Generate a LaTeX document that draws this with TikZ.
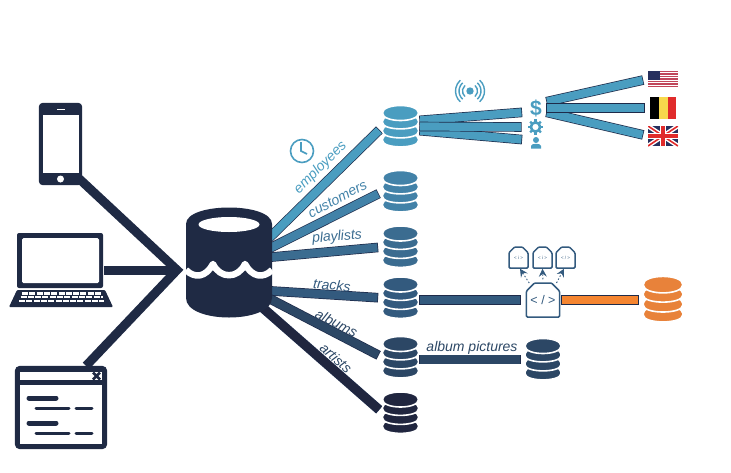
\documentclass[tikz,border=0pt]{standalone}
\usepackage{fontspec}
\setmainfont{Liberation Sans}
\usepackage{xcolor}
\usepackage{tikz}
\usetikzlibrary{arrows.meta, positioning, shapes.misc, backgrounds}
\definecolor{lakeNavy}{HTML}{1F2A44}
\definecolor{lakeEdge}{HTML}{1E2B4A}
\definecolor{employeeTone}{HTML}{4A9DC0}
\definecolor{customerTone}{HTML}{4282A8}
\definecolor{playlistTone}{HTML}{3B6C90}
\definecolor{trackTone}{HTML}{335A7E}
\definecolor{albumTone}{HTML}{2C4765}
\definecolor{artistTone}{HTML}{20263F}
\definecolor{orangeTone}{HTML}{E8823A}
\definecolor{orangeBar}{HTML}{F58530}
\definecolor{flagRed}{HTML}{C0455A}
\definecolor{flagBlue}{HTML}{27305E}
\definecolor{flagYellow}{HTML}{F7D94C}
\definecolor{flagScarlet}{HTML}{E02B2B}

\begin{document}
\begin{tikzpicture}[
  x=1pt, y=-1pt,
  font=\itshape\fontsize{14}{15}\selectfont,
  dbbox/.style={minimum width=35pt, minimum height=40pt, inner sep=0pt},
  iconbox/.style={minimum width=18pt, minimum height=14pt, inner sep=0pt},
  flagbox/.style={minimum height=16pt, inner sep=0pt},
  docbox/.style={draw=trackTone, line width=1.5pt, fill=white, rounded corners=1pt, chamfered rectangle,
                 chamfered rectangle corners={north west,north east}, chamfered rectangle sep=4pt,
                 inner sep=0pt, text=trackTone, font=\fontsize{12.5}{14}\selectfont},
  smalldoc/.style={docbox, minimum width=19pt, minimum height=21pt, font=\fontsize{4.5}{5}\selectfont},
  feed/.style={draw=lakeNavy, line width=9pt},
  bar/.style={line width=8.2pt, line cap=rect, draw=#1, shorten >=9.5pt, shorten <=6pt,
              preaction={draw=lakeEdge, line width=9.6pt, line cap=rect}},
  lakebar/.style={bar=#1, shorten <=-8pt},
  pull/.style={-{Stealth[length=2.8mm, width=2.8mm, inset=1mm]}, draw=trackTone, line width=.9pt,
               dash pattern=on 1.5pt off 2pt, shorten <=3pt},
  dbstack/.pic={
    \foreach \c in {12.5,3.5,-5.5}
      \path[fill=#1, draw=white, line width=1.6pt] (-18,\c) .. controls (-18,\c-8.5) and (18,\c-8.5) .. (18,\c)
        -- (18,\c+1.5) .. controls (18,\c+10) and (-18,\c+10) .. (-18,\c+1.5) -- cycle;
    \path[fill=#1, draw=white, line width=1.6pt] (-18,-13.5) .. controls (-18,-23.5) and (18,-23.5) .. (18,-13.5)
      .. controls (18,-3.5) and (-18,-3.5) .. cycle;
  },
  usflag/.pic={
    \fill[white] (-15,-8) rectangle (15,8);
    \foreach \s in {0,2,...,12}
      \fill[flagRed] (-15,-8+\s*1.23) rectangle (15,-8+\s*1.23+1.23);
    \fill[flagBlue] (-15,-8) rectangle (-3,0.5);
  },
  beflag/.pic={
    \fill[black] (-13,-11) rectangle (-4.5,11);
    \fill[flagYellow] (-4.5,-11) rectangle (4.5,11);
    \fill[flagScarlet] (4.5,-11) rectangle (13,11);
  },
  ukflag/.pic={
    \begin{scope}
      \clip (-15,-10) rectangle (15,10);
      \fill[flagBlue] (-15,-10) rectangle (15,10);
      \draw[white, line width=4.5pt] (-15,-10) -- (15,10) (-15,10) -- (15,-10);
      \draw[flagScarlet, line width=1.6pt] (-15,-10) -- (15,10) (-15,10) -- (15,-10);
      \draw[white, line width=6pt] (-15,0) -- (15,0) (0,-10) -- (0,10);
      \draw[flagScarlet, line width=3.4pt] (-15,0) -- (15,0) (0,-10) -- (0,10);
    \end{scope}
  }
]
\useasboundingbox (0,0) rectangle (731,472);

% clients
\node[minimum width=43pt, minimum height=82pt, inner sep=0pt] (phone) at (60.5,144) {};
\fill[lakeNavy, rounded corners=4pt] (phone.south west) rectangle (phone.north east);
\fill[white] (43,115) rectangle (79,173);
\draw[white, line width=1pt] (57,109) -- (65,109);
\fill[white] (60.5,179) circle (3.5);

\node[minimum width=86pt, minimum height=74pt, inner sep=0pt] (laptop) at (61,270) {};
\fill[lakeNavy, rounded corners=2pt] (17,233) rectangle (103,288);
\fill[white, rounded corners=1.5pt] (22,238) rectangle (99,283);
\fill[lakeNavy, rounded corners=1pt] (17,290) -- (105,290) -- (113,307) -- (9,307) -- cycle;
\draw[white, line width=2.6pt, dash pattern=on 6pt off 1.3pt] (22,293.5) -- (101,293.5);
\draw[white, line width=2.4pt, dash pattern=on 6pt off 1.3pt] (20.5,297.2) -- (102.5,297.2);
\draw[white, line width=2.6pt, dash pattern=on 6pt off 1.3pt] (19,301) -- (104,301);

\node[minimum width=92pt, minimum height=83pt, inner sep=0pt] (window) at (61,407.5) {};
\fill[lakeNavy, rounded corners=5pt] (window.south west) rectangle (window.north east);
\fill[white] (20,372) rectangle (102,380);
\fill[white] (20,385) rectangle (102,444);
\draw[lakeNavy, line width=2.8pt] (93,372.5) -- (100,379.5) (93,379.5) -- (100,372.5);
\draw[lakeNavy, line width=5pt, line cap=round] (29,398) -- (56,398) (29,423) -- (56,423);
\draw[lakeNavy, line width=3pt, line cap=round] (36,408.5) -- (69,408.5) (76,408.5) -- (92,408.5)
  (36,433) -- (69,433) (76,433) -- (92,433);

% lake
\node[minimum width=86pt, minimum height=111pt, inner sep=0pt] (lake) at (229,263) {};
\coordinate (lakein) at (177,270);
\fill[lakeNavy] (186,224) .. controls (186,202) and (272,202) .. (272,224) -- (272,298)
  .. controls (272,324) and (186,324) .. (186,298) -- cycle;
\fill[white] (229,224.5) ellipse [x radius=30.5, y radius=7.5];
\draw[white, line width=6.5pt, line join=round] (186,270) .. controls (195,279) and (206,277) .. (213,264)
  .. controls (220,279) and (238,279) .. (245,264) .. controls (252,277) and (263,279) .. (272,270);

% stores
\node[dbbox] (employees) at (400.5,126.5) {}; \pic at (employees) {dbstack=employeeTone};
\node[dbbox] (customers) at (400.5,191.5) {}; \pic at (customers) {dbstack=customerTone};
\node[dbbox] (playlists) at (400.5,247) {}; \pic at (playlists) {dbstack=playlistTone};
\node[dbbox] (tracks) at (400.5,298) {}; \pic at (tracks) {dbstack=trackTone};
\node[dbbox] (albums) at (400.5,357.5) {}; \pic at (albums) {dbstack=albumTone};
\node[dbbox] (artists) at (400.5,413) {}; \pic at (artists) {dbstack=artistTone};
\node[dbbox] (pictures) at (543,359.5) {}; \pic at (pictures) {dbstack=albumTone};
\node[dbbox, minimum width=38pt] (export) at (663,299.5) {}; \pic[scale=1.1] at (export) {dbstack=orangeTone};

% icons
\node[iconbox, text=employeeTone, font=\bfseries\fontsize{21}{21}\selectfont] (dollar) at (536,108) {\$};
\node[iconbox] (gear) at (535.5,127) {};
\draw[employeeTone, line width=2.6pt] (gear) circle (4.6);
\foreach \a in {0,45,...,315}
  \draw[employeeTone, line width=2.2pt] (gear) ++(\a:5) -- ++(\a:2.6);
\node[iconbox] (person) at (536,143) {};
\fill[employeeTone] (536,140) circle (3);
\fill[employeeTone] (531,148.5) -- (531,146) .. controls (531,143) and (541,143) .. (541,146) -- (541,148.5) -- cycle;
\node[minimum size=30pt, inner sep=0pt] (signal) at (470,91) {};
\fill[employeeTone] (signal) circle (3.7);
\foreach \r in {7.5,11,14.5}
  \draw[employeeTone, line width=1.4pt] (470,91) ++(-48:\r) arc (-48:48:\r)
    (470,91) ++(132:\r) arc (132:228:\r);
\node[minimum size=24pt, inner sep=0pt] (clock) at (302,151) {};
\draw[employeeTone, line width=1.6pt] (clock) circle (11.5);
\draw[employeeTone, line width=1.6pt] (301,142) -- (301,151) -- (307,154);

% flags
\node[flagbox, minimum width=30pt] (us) at (663,79) {}; \pic at (us) {usflag};
\node[flagbox, minimum width=26pt] (be) at (663,108) {}; \pic at (be) {beflag};
\node[flagbox, minimum width=30pt] (uk) at (663,136) {}; \pic at (uk) {ukflag};

% code documents
\node[docbox, minimum width=30pt, minimum height=34pt] (codepage) at (543,300) {< / >};
\node[smalldoc] (code1) at (518.5,257.5) {< i >};
\node[smalldoc] (code2) at (542.5,257.5) {< i >};
\node[smalldoc] (code3) at (565.5,257.5) {< / >};
\draw[pull] (codepage.130) -- ([xshift=1.5pt]code1.south);
\draw[pull] (codepage.north) -- (code2.south);
\draw[pull] (codepage.50) -- ([xshift=-1.5pt]code3.south);

\begin{scope}[on background layer]
\draw[feed, shorten <=-4pt] (phone.-60) -- (lakein) -- (window.59);
\draw[feed] (laptop.east) -- (lakein);
\draw[lakebar=employeeTone] ([yshift=28pt]lake.east) -- (employees.west);
\draw[lakebar=customerTone] ([yshift=16pt]lake.east) -- (customers.west);
\draw[lakebar=playlistTone] ([yshift=6pt]lake.east) -- (playlists.west);
\draw[lakebar=trackTone] ([yshift=-28pt]lake.east) -- (tracks.west);
\draw[lakebar=albumTone] ([yshift=-37pt]lake.east) -- (albums.west);
\draw[lakebar=artistTone] ([xshift=-7pt, yshift=-47pt]lake.east) -- (artists.west);
\end{scope}
\draw[bar=employeeTone] ([yshift=-4pt]employees.east) -- ([yshift=3pt]person.west);
\draw[bar=employeeTone] ([yshift=6pt]employees.east) -- ([yshift=-4pt]dollar.west);
\draw[bar=employeeTone] (employees.east) -- (gear.west);
\draw[bar=employeeTone] ([yshift=-4pt]dollar.east) -- (uk.west);
\draw[bar=employeeTone] ([yshift=6pt]dollar.east) -- (us.west);
\draw[bar=employeeTone] (dollar.east) -- (be.west);
\draw[bar=trackTone] ([yshift=-2pt]tracks.east) -- (codepage.west);
\draw[bar=orangeBar] (codepage.east) -- (codepage.east -| export.west);
\draw[bar=albumTone] ([yshift=-2pt]albums.east) -- (pictures.west);

% labels
\node[text=employeeTone, rotate=45] (employeeslabel) at (320.5,167.5) {employees};
\node[text=customerTone, rotate=28] (customerslabel) at (337.5,199) {customers};
\node[text=playlistTone, rotate=5] (playlistslabel) at (337,237) {playlists};
\node[text=trackTone, rotate=-5] (trackslabel) at (332,285) {tracks};
\node[text=albumTone, rotate=-27] (albumslabel) at (336.5,323) {albums};
\node[text=albumTone, rotate=-42] (artistslabel) at (336,358) {artists};
\node[text=albumTone] (pictureslabel) at (472,348) {album pictures};
\end{tikzpicture}
\end{document}
